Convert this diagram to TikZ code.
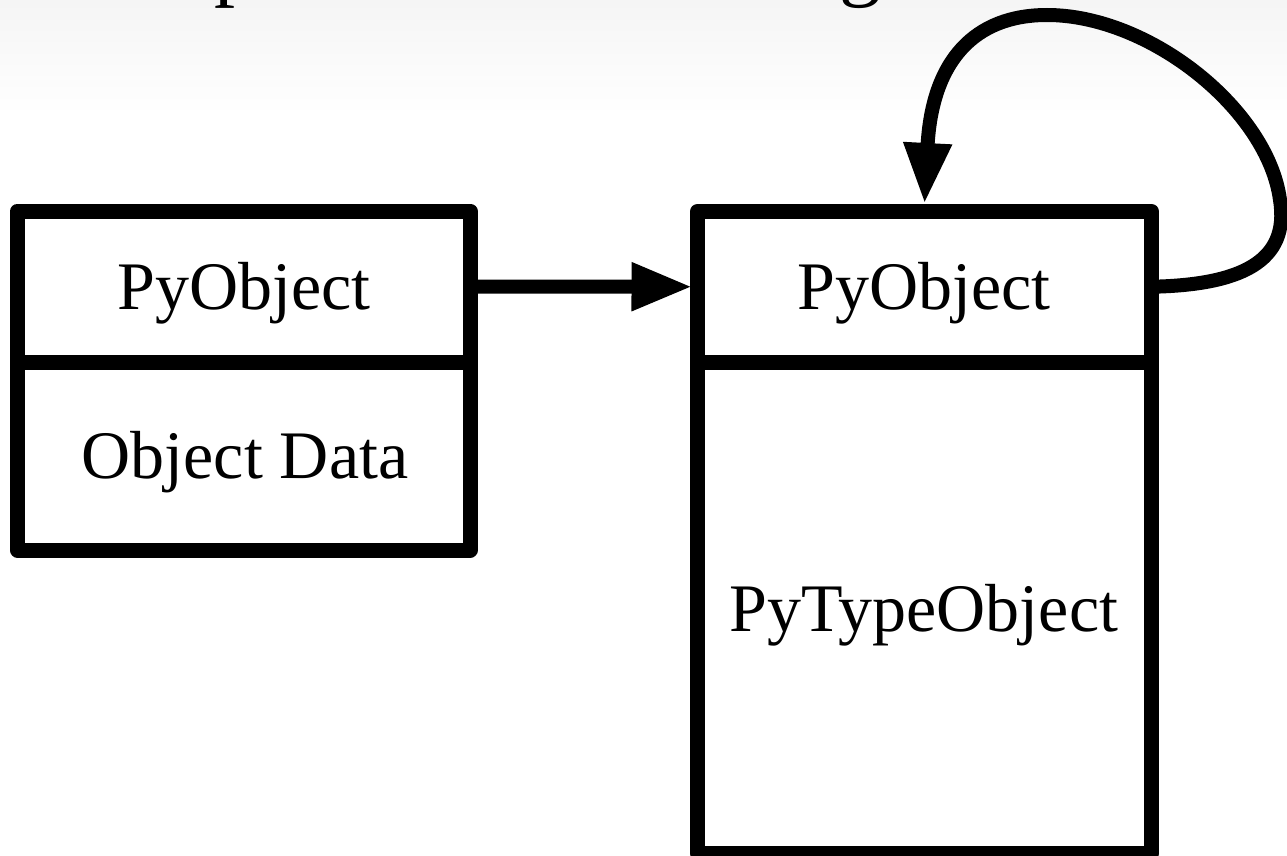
\documentclass[tikz,border=0pt]{standalone}
\usepackage{fontspec}
\setmainfont{Liberation Serif}
\usetikzlibrary{arrows.meta}
\begin{document}
\begin{tikzpicture}[x=1pt,y=-1pt,
  compart/.style={draw, line width=15pt, line join=round, inner sep=0pt, outer sep=0pt, rectangle},
  label/.style={font=\fontsize{68}{72}\selectfont, inner sep=0pt, anchor=base},
  conn/.style={line width=14pt, -{Triangle[length=61pt,width=45pt]}},
  titleglyph/.style={font=\fontsize{84}{90}\selectfont, inner sep=0pt}
]
\useasboundingbox (0,0) rectangle (1287,856);
\clip (0,0) rectangle (1287,856);
\fill[white] (0,0) rectangle (1287,856);
\shade[top color=black!4, bottom color=white] (0,0) rectangle (1287,115);
% partial title descenders
\node[titleglyph, anchor=base west] (tp) at (214,-9) {p};
\node[titleglyph, anchor=base] (tg) at (860,-9) {g};
% left object
\node[compart, minimum width=452.5pt, minimum height=151pt] (Ltop) at (243.75,286.5) {};
\node[compart, minimum width=452.5pt, minimum height=188pt] (Lbot) at (243.75,456) {};
% right object
\node[compart, minimum width=454pt, minimum height=150.5pt] (Rtop) at (924.5,286.75) {};
\node[compart, minimum width=454pt, minimum height=491.5pt] (Rbot) at (924.5,607.75) {};
% texts
\node[label] (t1) at (244,309) {PyObject};
\node[label] (t2) at (245,478) {Object Data};
\node[label] (t3) at (924,309) {PyObject};
\node[label] (t4) at (924,631) {PyTypeObject};
% connectors
\draw[conn, shorten >=5pt] (Ltop.east) -- (Rtop.west);
\draw[conn] (Rtop.east) .. controls (1240,285) and (1290,262) .. (1280,200)
  .. controls (1268,110) and (1150,15) .. (1047,15)
  .. controls (975,15) and (932,60) .. ([yshift=7.5pt]Rtop.north);
\end{tikzpicture}
\end{document}
